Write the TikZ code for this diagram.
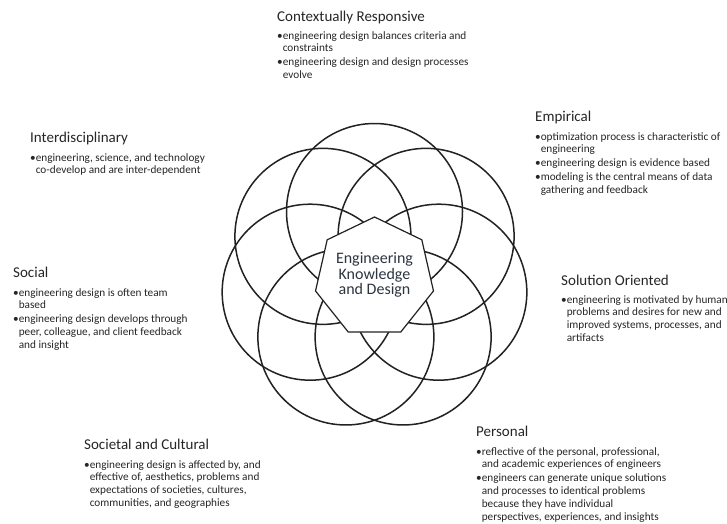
\documentclass[tikz,border=0pt]{standalone}
\usepackage{fontspec}
\setmainfont{Carlito}
\usetikzlibrary{shapes.geometric}
\definecolor{txt}{HTML}{262626}
\definecolor{ink}{HTML}{222222}
\definecolor{coretxt}{HTML}{2E3540}
\newlength\bulw
\newcommand\bl{\makebox[\bulw][l]{•}}
\newcommand\cl{\hspace*{\bulw}}
\newcommand\blist[1]{\parbox[t]{260pt}{\fontsize{11.25}{12.8}\selectfont\settowidth{\bulw}{•}\raggedright\noindent #1}}
\tikzset{
  ttl/.style={anchor=base west, inner sep=0pt, text=txt, font=\fontsize{15}{18}\selectfont},
  body/.style={anchor=base west, inner sep=0pt, text=txt},
  ring/.style={draw=ink, line width=1.5pt},
  hept/.style={draw=ink, line width=1.2pt, fill=white, regular polygon, regular polygon sides=7, minimum size=121pt, inner sep=0pt, outer sep=0pt},
  core/.style={align=center, text=coretxt, inner sep=0pt, font=\fontsize{16}{15.5}\selectfont}
}
\begin{document}
\begin{tikzpicture}[x=1pt,y=-1pt]
\fill[white] (0,0) rectangle (727,523);
\useasboundingbox (0,0) rectangle (727,523);
\coordinate (O) at (374.5,277.5);
\foreach \k in {0,...,6}
  \draw[ring] (O) ++(-90+\k*360/7:66) circle[radius=88];
\node[hept] (hp) at (O) {};
\node[core] (core) at (374.5,275.3) {Engineering\\Knowledge\\and Design};

% Contextually Responsive
\node[ttl] (t1) at (277,21) {Contextually Responsive};
\node[body] (b1) at (277,39) {\blist{\bl engineering design balances criteria and\\ \cl constraints\\[1.2pt] \bl engineering design and design processes\\ \cl evolve}};

% Empirical
\node[ttl] (t2) at (535,121) {Empirical};
\node[body] (b2) at (535,140) {\blist{\bl optimization process is characteristic of\\ \cl engineering\\[1.2pt] \bl engineering design is evidence based\\[1.2pt] \bl modeling is the central means of data\\ \cl gathering and feedback}};

% Interdisciplinary
\node[ttl] (t3) at (30,142) {Interdisciplinary};
\node[body] (b3) at (30,161) {\blist{\bl engineering, science, and technology\\ \cl co-develop and are inter-dependent}};

% Social
\node[ttl] (t4) at (13,277) {Social};
\node[body] (b4) at (13,296) {\blist{\bl engineering design is often team\\ \cl based\\[1.2pt] \bl engineering design develops through\\ \cl peer, colleague, and client feedback\\ \cl and insight}};

% Solution Oriented
\node[ttl] (t5) at (561,285) {Solution Oriented};
\node[body] (b5) at (561,303) {\blist{\bl engineering is motivated by human\\ \cl problems and desires for new and\\ \cl improved systems, processes, and\\ \cl artifacts}};

% Societal and Cultural
\node[ttl] (t6) at (84,449) {Societal and Cultural};
\node[body] (b6) at (84,468) {\blist{\bl engineering design is affected by, and\\ \cl effective of, aesthetics, problems and\\ \cl expectations of societies, cultures,\\ \cl communities, and geographies}};

% Personal
\node[ttl] (t7) at (476,436) {Personal};
\node[body] (b7) at (476,455) {\blist{\bl reflective of the personal, professional,\\ \cl and academic experiences of engineers\\[1.2pt] \bl engineers can generate unique solutions\\ \cl and processes to identical problems\\ \cl because they have individual\\ \cl perspectives, experiences, and insights}};
\end{tikzpicture}
\end{document}
